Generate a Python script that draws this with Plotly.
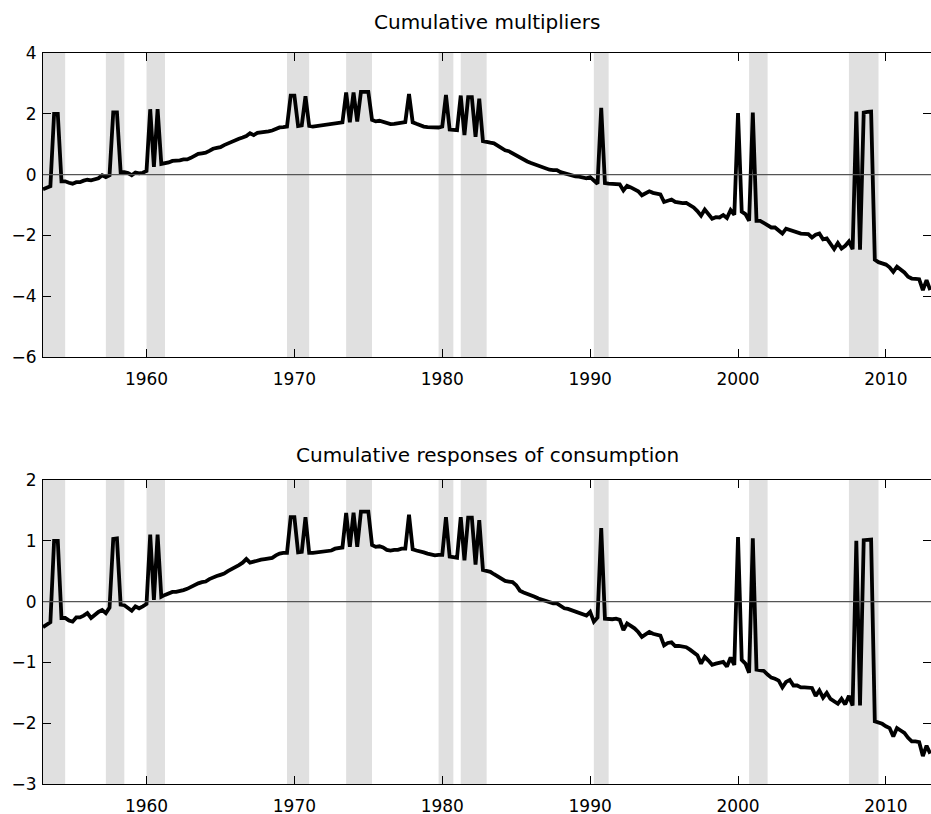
import plotly.graph_objects as go

# quarterly dates 1953Q1 .. 2013Q1 plotted at year + (q-1)/4
start_year = 1953
n_quarters = 241
dates = [start_year + k / 4 for k in range(n_quarters)]

multipliers = [
    -0.48, -0.43, -0.38, 2.0, 2.0, -0.22, -0.22, -0.27, -0.30, -0.25,
    -0.25, -0.20, -0.17, -0.19, -0.16, -0.12, -0.02, -0.08, -0.02, 2.05,
    2.05, 0.08, 0.08, 0.05, -0.02, 0.07, 0.04, 0.06, 0.12, 2.15,
    0.25, 2.15, 0.35, 0.37, 0.40, 0.45, 0.45, 0.47, 0.50, 0.50,
    0.55, 0.62, 0.68, 0.70, 0.72, 0.78, 0.85, 0.88, 0.90, 0.97,
    1.03, 1.08, 1.12, 1.18, 1.22, 1.27, 1.36, 1.30, 1.37, 1.38,
    1.38, 1.42, 1.45, 1.50, 1.55, 1.56, 1.58, 2.60, 2.60, 1.60,
    1.62, 2.58, 1.60, 1.58, 1.60, 1.60, 1.62, 1.63, 1.68, 1.70,
    1.72, 1.72, 2.70, 1.72, 2.70, 1.75, 2.72, 2.72, 2.72, 1.80,
    1.75, 1.77, 1.73, 1.69, 1.66, 1.67, 1.69, 1.71, 1.73, 2.65,
    1.72, 1.67, 1.62, 1.58, 1.56, 1.55, 1.53, 1.55, 1.58, 2.62,
    1.48, 1.47, 1.46, 2.60, 1.30, 2.55, 2.55, 1.24, 2.50, 1.10,
    1.06, 1.05, 1.03, 0.95, 0.87, 0.80, 0.77, 0.70, 0.62, 0.57,
    0.50, 0.43, 0.38, 0.33, 0.28, 0.24, 0.20, 0.16, 0.15, 0.15,
    0.08, 0.04, 0.02, -0.02, -0.06, -0.07, -0.08, -0.12, -0.08, -0.20,
    -0.30, 2.20, -0.28, -0.30, -0.30, -0.30, -0.32, -0.52, -0.37, -0.42,
    -0.47, -0.55, -0.68, -0.62, -0.55, -0.60, -0.62, -0.65, -0.90, -0.86,
    -0.82, -0.90, -0.93, -0.94, -0.93, -1.00, -1.08, -1.20, -1.35, -1.15,
    -1.28, -1.45, -1.40, -1.41, -1.33, -1.43, -1.17, -1.32, 2.02, -1.22,
    -1.30, -1.52, 2.04, -1.52, -1.52, -1.60, -1.68, -1.74, -1.74, -1.83,
    -1.94, -1.78, -1.82, -1.87, -1.88, -1.94, -1.95, -1.96, -2.07, -1.98,
    -1.94, -2.13, -2.10, -2.28, -2.45, -2.25, -2.43, -2.34, -2.20, -2.45,
    2.07, -2.47, 2.04, 2.06, 2.07, -2.80, -2.88, -2.92, -2.96, -3.05,
    -3.20, -3.03, -3.12, -3.22, -3.36, -3.42, -3.43, -3.44, -3.80, -3.47,
    -3.80,
]

consumption = [
    -0.42, -0.38, -0.34, 1.00, 1.00, -0.27, -0.27, -0.31, -0.33, -0.26,
    -0.26, -0.23, -0.19, -0.27, -0.21, -0.17, -0.14, -0.19, -0.10, 1.03,
    1.04, -0.05, -0.06, -0.10, -0.15, -0.08, -0.11, -0.08, -0.04, 1.10,
    0.03, 1.10, 0.08, 0.11, 0.14, 0.16, 0.16, 0.17, 0.19, 0.21,
    0.24, 0.28, 0.30, 0.32, 0.33, 0.37, 0.40, 0.42, 0.44, 0.46,
    0.50, 0.53, 0.57, 0.60, 0.64, 0.70, 0.64, 0.66, 0.68, 0.69,
    0.70, 0.71, 0.72, 0.76, 0.79, 0.80, 0.80, 1.39, 1.39, 0.81,
    0.82, 1.39, 0.80, 0.80, 0.81, 0.81, 0.82, 0.83, 0.84, 0.87,
    0.88, 0.89, 1.46, 0.90, 1.46, 0.90, 1.48, 1.48, 1.48, 0.93,
    0.90, 0.91, 0.89, 0.85, 0.84, 0.85, 0.85, 0.87, 0.87, 1.43,
    0.86, 0.84, 0.83, 0.81, 0.79, 0.78, 0.76, 0.77, 0.77, 1.39,
    0.74, 0.73, 0.72, 1.39, 0.68, 1.38, 1.38, 0.61, 1.34, 0.52,
    0.50, 0.49, 0.45, 0.41, 0.37, 0.34, 0.33, 0.32, 0.27, 0.18,
    0.15, 0.13, 0.11, 0.08, 0.05, 0.03, 0.00, -0.02, -0.03, -0.03,
    -0.08, -0.11, -0.12, -0.14, -0.16, -0.18, -0.20, -0.23, -0.17, -0.33,
    -0.26, 1.21, -0.28, -0.29, -0.29, -0.28, -0.30, -0.47, -0.36, -0.40,
    -0.44, -0.50, -0.58, -0.54, -0.50, -0.53, -0.55, -0.56, -0.72, -0.68,
    -0.67, -0.73, -0.73, -0.74, -0.75, -0.79, -0.83, -0.88, -1.02, -0.91,
    -0.97, -1.04, -1.02, -1.01, -0.99, -1.07, -0.92, -1.04, 1.06, -0.96,
    -1.02, -1.17, 1.04, -1.12, -1.13, -1.14, -1.20, -1.25, -1.27, -1.30,
    -1.41, -1.32, -1.29, -1.38, -1.38, -1.41, -1.41, -1.42, -1.42, -1.55,
    -1.46, -1.58, -1.50, -1.60, -1.65, -1.68, -1.60, -1.69, -1.55, -1.71,
    1.00, -1.71, 1.01, 1.01, 1.02, -1.97, -1.99, -2.01, -2.05, -2.08,
    -2.22, -2.08, -2.12, -2.16, -2.24, -2.30, -2.30, -2.31, -2.54, -2.37,
    -2.50,
]

# NBER recessions (peak quarter, trough quarter)
recession_peaks = ["1953Q2", "1957Q3", "1960Q2", "1969Q4", "1973Q4",
                   "1980Q1", "1981Q3", "1990Q3", "2001Q1", "2007Q4"]
recession_troughs = ["1954Q2", "1958Q2", "1961Q1", "1970Q4", "1975Q1",
                     "1980Q3", "1982Q4", "1991Q1", "2001Q4", "2009Q2"]

titles = ["Cumulative multipliers", "Cumulative responses of consumption"]
y_ranges = [[-6, 4], [-3, 2]]
y_ticks = [[-6, -4, -2, 0, 2, 4], [-3, -2, -1, 0, 1, 2]]
x_ticks = [1960, 1970, 1980, 1990, 2000, 2010]


def q_to_num(s):
    y, q = s.split("Q")
    return int(y) + (int(q) - 1) / 4


W, H = 931, 814
FONT = "DejaVu Sans, Arial, Helvetica, sans-serif"

fig = go.Figure()

# pixel layout
plot_px = [(53, 357), (480, 784)]
title_px = [22, 455]
left_px, right_px = 43, 931

shapes = []
annotations = []
series = [multipliers, consumption]
for k in range(2):
    xa = "x" if k == 0 else "x2"
    ya = "y" if k == 0 else "y2"
    fig.add_trace(go.Scatter(
        x=dates, y=series[k], mode="lines",
        line=dict(color="black", width=3.8),
        xaxis=xa, yaxis=ya, showlegend=False, hoverinfo="x+y",
    ))
    for p, t in zip(recession_peaks, recession_troughs):
        shapes.append(dict(
            type="rect", xref=xa, yref=ya + " domain",
            x0=q_to_num(p) - 0.25, x1=q_to_num(t) + 0.25, y0=0, y1=1,
            fillcolor="#e0e0e0", line=dict(width=0), layer="below",
        ))
    shapes.append(dict(
        type="line", xref=xa + " domain", yref=ya,
        x0=0, x1=1, y0=0, y1=0,
        line=dict(color="#555555", width=1.2), layer="above",
    ))
    annotations.append(dict(
        text=titles[k], xref="paper", yref="paper",
        x=0.5, y=1 - title_px[k] / H, xanchor="center", yanchor="middle",
        showarrow=False, font=dict(family=FONT, size=20, color="black"),
    ))

axis_common = dict(
    showline=True, linecolor="black", linewidth=1.2, mirror="ticks",
    ticks="inside", ticklen=8, tickwidth=1, tickcolor="black",
    showgrid=False, zeroline=False, automargin=False,
    tickfont=dict(family=FONT, size=17, color="black"),
)

layout = dict(
    width=W, height=H,
    margin=dict(l=left_px, r=W - right_px, t=0, b=0),
    paper_bgcolor="white", plot_bgcolor="white",
    shapes=shapes, annotations=annotations,
    showlegend=False,
)
for k in range(2):
    top, bot = plot_px[k]
    xname = "xaxis" if k == 0 else "xaxis2"
    yname = "yaxis" if k == 0 else "yaxis2"
    layout[xname] = dict(
        axis_common, range=[1953, 2013.05], tickvals=x_ticks,
        anchor="y" if k == 0 else "y2", domain=[0, 1],
        ticklabelstandoff=6,
    )
    layout[yname] = dict(
        axis_common, range=y_ranges[k], tickvals=y_ticks[k],
        anchor="x" if k == 0 else "x2",
        domain=[1 - bot / H, 1 - top / H],
        ticklabelstandoff=2,
    )

fig.update_layout(**layout)
fig.write_html("out.html")
